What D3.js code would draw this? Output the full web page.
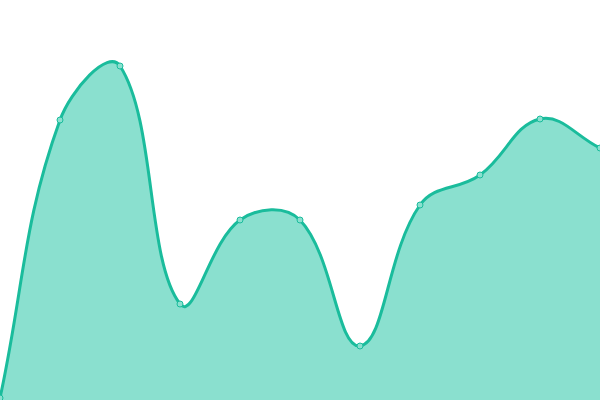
<!DOCTYPE html>
<html>
<head>
<meta charset="utf-8">
<script src="https://cdn.jsdelivr.net/npm/d3@7"></script>
<style>
  html, body { margin: 0; padding: 0; background: #fff; }
  #chart { width: 600px; height: 400px; }
</style>
</head>
<body>
<div id="chart"></div>
<script>
// values
const xs = [0, 1, 2, 3, 4, 5, 6, 7, 8, 9, 10];
const values = [2, 280, 334, 96, 180, 180, 54, 195, 225, 281, 252];

const width = 600, height = 400;
const tension = 0.4;

// spline with distance-weighted control points (tension 0.4 style)
function SplineCurve(context) { this._context = context; }
SplineCurve.prototype = {
  areaStart() { this._line = 0; },
  areaEnd() { this._line = NaN; },
  lineStart() { this._px = []; this._py = []; },
  point(x, y) { this._px.push(+x); this._py.push(+y); },
  lineEnd() {
    const px = this._px, py = this._py, n = px.length, c = this._context;
    if (n) {
      this._line ? c.lineTo(px[0], py[0]) : c.moveTo(px[0], py[0]);
      const cp = [];
      for (let i = 0; i < n; i++) {
        const a = Math.max(i - 1, 0), b = Math.min(i + 1, n - 1);
        const d01 = Math.hypot(px[i] - px[a], py[i] - py[a]);
        const d12 = Math.hypot(px[b] - px[i], py[b] - py[i]);
        let s01 = d01 / (d01 + d12), s12 = d12 / (d01 + d12);
        if (isNaN(s01)) s01 = 0;
        if (isNaN(s12)) s12 = 0;
        const fa = tension * s01, fb = tension * s12;
        const dx = px[b] - px[a], dy = py[b] - py[a];
        cp.push({
          px: px[i] - fa * dx, py: py[i] - fa * dy,
          nx: px[i] + fb * dx, ny: py[i] + fb * dy
        });
      }
      for (let i = 1; i < n; i++) {
        c.bezierCurveTo(cp[i - 1].nx, cp[i - 1].ny, cp[i].px, cp[i].py, px[i], py[i]);
      }
    }
    if (this._line || (this._line !== 0 && n === 1)) c.closePath();
    this._line = 1 - this._line;
  }
};
const spline = context => new SplineCurve(context);

const svg = d3.select('#chart').append('svg')
  .attr('width', width).attr('height', height)
  .attr('viewBox', [0, 0, width, height]);

const x = d3.scaleLinear().domain([0, 10]).range([0, width]);
const y = d3.scaleLinear().domain([0, 400]).range([height, 0]);

const area = d3.area()
  .x((d, i) => x(xs[i])).y0(y(0)).y1(d => y(d))
  .curve(spline);
const line = d3.line()
  .x((d, i) => x(xs[i])).y(d => y(d))
  .curve(spline);

svg.append('path').attr('d', area(values))
  .attr('fill', '#8ae0cf');
svg.append('path').attr('d', line(values))
  .attr('fill', 'none').attr('stroke', '#1abc9c').attr('stroke-width', 3);

svg.append('g').selectAll('circle').data(values).join('circle')
  .attr('cx', (d, i) => x(xs[i])).attr('cy', d => y(d))
  .attr('r', 3)
  .attr('fill', '#8ae0cf').attr('stroke', '#1abc9c').attr('stroke-width', 1);
</script>
</body>
</html>
